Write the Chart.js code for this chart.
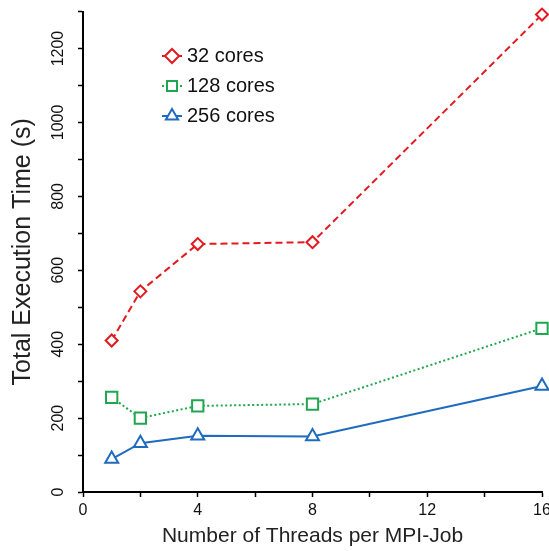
<!DOCTYPE html>
<html>
<head>
<meta charset="utf-8">
<title>Total Execution Time</title>
<script src="https://cdn.jsdelivr.net/npm/chart.js@4.4.1/dist/chart.umd.min.js"></script>
<style>
  html, body { margin: 0; padding: 0; background: #fff; overflow: hidden; }
  #wrap { width: 549px; height: 551px; overflow: hidden; }
</style>
</head>
<body>
<div id="wrap"><canvas id="timeChart" width="560" height="551"></canvas></div>
<script>
// values
const threads = [1, 2, 4, 8, 16];
const cores32 = [410, 543, 671, 676, 1292];
const cores128 = [256, 200, 233, 238, 443];
const cores256 = [89, 132, 152, 150, 287];
const seriesLabels = ["32 cores", "128 cores", "256 cores"];
const xTickLabels = [0, 4, 8, 12, 16];
const yTickLabels = [0, 200, 400, 600, 800, 1000, 1200];

const RED = "#e3191f";
const GREEN = "#1fa64f";
const BLUE = "#1e6bbf";
const FONT = "'Liberation Sans', Arial, Helvetica, sans-serif";

function toPoints(values) {
  return threads.map((t, i) => ({ x: t, y: values[i] }));
}

// put the legend inside the plot, top left, and add the little line stubs
const legendSpot = {
  id: "legendSpot",
  afterLayout(chart) {
    const lg = chart.legend;
    if (!lg) return;
    lg.left = 157;
    lg.top = 36;
    lg.width = 170;
    lg.height = 110;
    lg.right = lg.left + lg.width;
    lg.bottom = lg.top + lg.height;
  },
  beforeDraw(chart) {
    const lg = chart.legend;
    if (!lg || !lg.legendHitBoxes) return;
    const ctx = chart.ctx;
    lg.legendHitBoxes.forEach((hb, i) => {
      const ds = chart.data.datasets[i];
      const cx = hb.left + 5;
      const cy = hb.top + hb.height / 2;
      ctx.save();
      ctx.strokeStyle = ds.borderColor;
      ctx.lineWidth = 2;
      ctx.setLineDash(i === 1 ? [2, 2] : []);
      ctx.beginPath();
      ctx.moveTo(cx - 10, cy); ctx.lineTo(cx - 4, cy);
      ctx.moveTo(cx + 4, cy); ctx.lineTo(cx + 10, cy);
      ctx.stroke();
      ctx.restore();
    });
  }
};

new Chart(document.getElementById("timeChart"), {
  type: "line",
  data: {
    datasets: [
      {
        label: seriesLabels[0],
        data: toPoints(cores32),
        borderColor: RED,
        backgroundColor: "#fff",
        borderWidth: 2,
        borderDash: [7, 4],
        pointStyle: "rectRot",
        pointRadius: 6,
        pointBorderWidth: 2,
        pointBorderColor: RED,
        pointBackgroundColor: "#fff",
        clip: false
      },
      {
        label: seriesLabels[1],
        data: toPoints(cores128),
        borderColor: GREEN,
        backgroundColor: "#fff",
        borderWidth: 2,
        borderDash: [2, 2.5],
        pointStyle: "rect",
        pointRadius: 8,
        pointBorderWidth: 2,
        pointBorderColor: GREEN,
        pointBackgroundColor: "#fff",
        clip: false
      },
      {
        label: seriesLabels[2],
        data: toPoints(cores256),
        borderColor: BLUE,
        backgroundColor: "#fff",
        borderWidth: 2,
        pointStyle: "triangle",
        pointRadius: 7.5,
        pointBorderWidth: 2,
        pointBorderColor: BLUE,
        pointBackgroundColor: "#fff",
        clip: false
      }
    ]
  },
  options: {
    responsive: false,
    animation: false,
    devicePixelRatio: 1,
    layout: { padding: { left: 0, right: 18, top: 11, bottom: 0 } },
    plugins: {
      tooltip: { enabled: false },
      legend: {
        position: "chartArea",
        align: "start",
        labels: {
          usePointStyle: true,
          boxWidth: 10,
          boxHeight: 10,
          padding: 10,
          color: "#111",
          font: { family: FONT, size: 20 },
          generateLabels(chart) {
            const items = Chart.defaults.plugins.legend.labels.generateLabels(chart);
            items.forEach(it => { it.lineDash = []; });
            return items;
          }
        }
      }
    },
    scales: {
      x: {
        type: "linear",
        min: 0,
        max: 16,
        afterFit(scale) { scale.height = 59; },
        border: { color: "#000", width: 2 },
        grid: { drawOnChartArea: false, drawTicks: true, tickLength: 5, tickColor: "#000", tickWidth: 1.5 },
        ticks: {
          stepSize: 2,
          autoSkip: false,
          maxRotation: 0,
          padding: 4,
          color: "#111",
          font: { family: FONT, size: 16 },
          callback: v => xTickLabels.includes(v) ? String(v) : ""
        },
        title: {
          display: true,
          text: "Number of Threads per MPI-Job",
          color: "#222",
          font: { family: FONT, size: 21 },
          padding: { top: 0, bottom: 2 }
        }
      },
      y: {
        min: 0,
        max: 1300,
        afterFit(scale) { scale.width = 83; },
        border: { color: "#000", width: 2 },
        grid: { drawOnChartArea: false, drawTicks: true, tickLength: 5, tickColor: "#000", tickWidth: 1.5 },
        ticks: {
          stepSize: 100,
          autoSkip: false,
          minRotation: 90,
          maxRotation: 90,
          crossAlign: "center",
          padding: 2,
          color: "#111",
          font: { family: FONT, size: 16 },
          callback: v => yTickLabels.includes(v) ? String(v) : ""
        },
        title: {
          display: true,
          text: "Total Execution Time (s)",
          color: "#222",
          font: { family: FONT, size: 25 },
          padding: { top: 8, bottom: 0 }
        }
      }
    }
  },
  plugins: [legendSpot]
});
</script>
</body>
</html>
